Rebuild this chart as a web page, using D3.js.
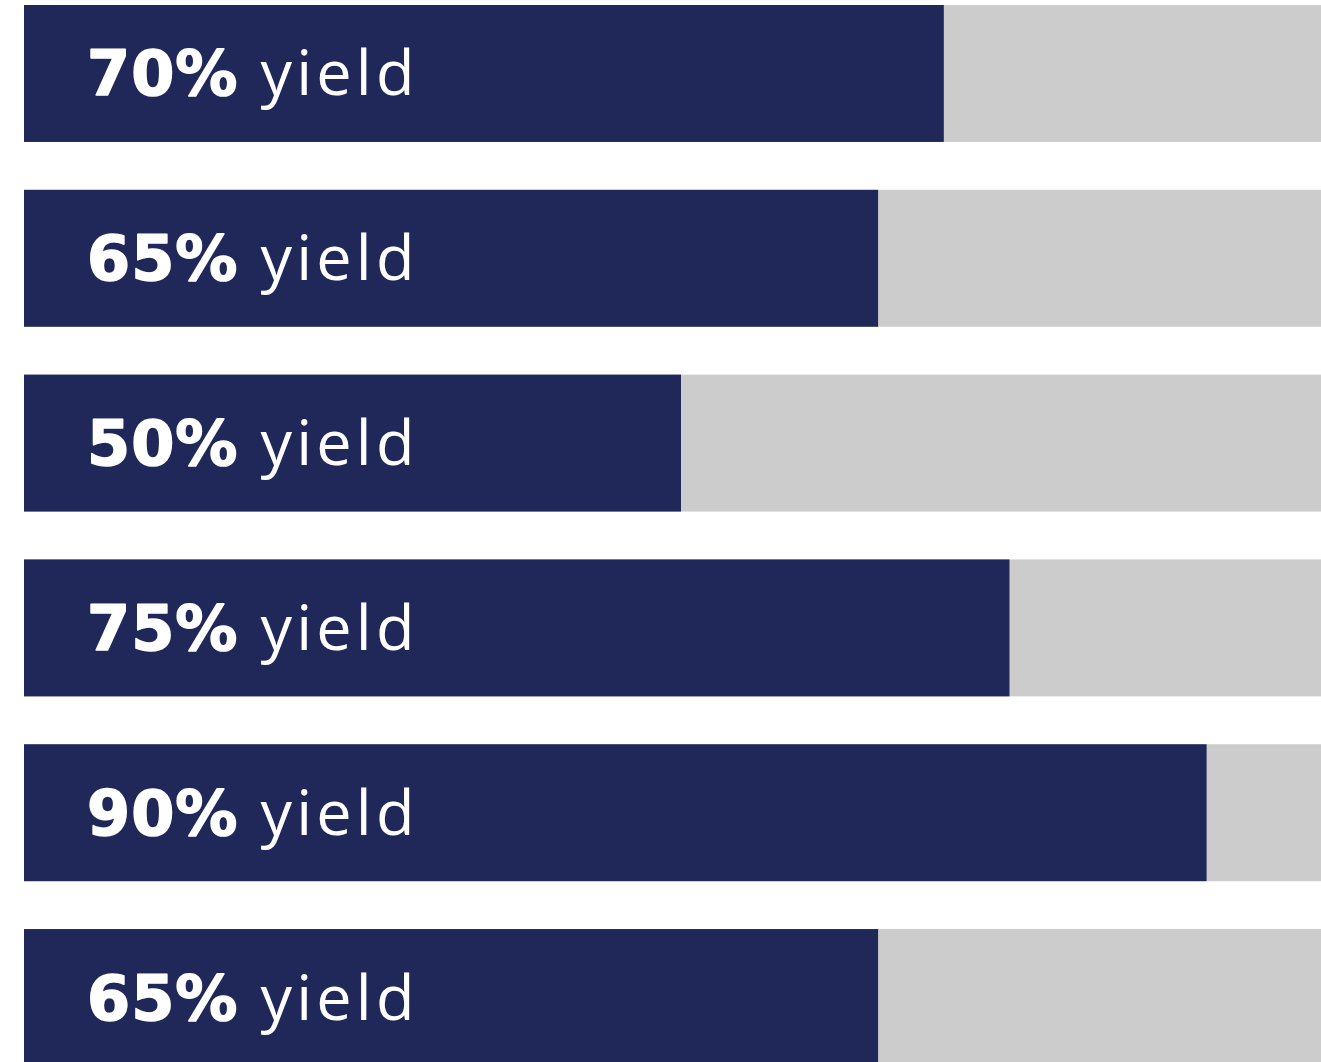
<!DOCTYPE html>
<html>
<head>
<meta charset="utf-8">
<script src="https://cdn.jsdelivr.net/npm/d3@7"></script>
<style>
  html, body { margin: 0; padding: 0; background: #ffffff; overflow: hidden; }
  svg { display: block; }
</style>
</head>
<body>
<svg id="chart" width="1321" height="1062"></svg>
<script>
// Data
const categories = ["row1", "row2", "row3", "row4", "row5", "row6"];
const yieldValues = [70, 65, 50, 75, 90, 65];
const valueLabels = ["70%", "65%", "50%", "75%", "90%", "65%"];
const suffixLabel = "yield";
const domainMax = 100;

const svg = d3.select("#chart");

const x = d3.scaleLinear().domain([0, domainMax]).range([24, 1338]);
const y = d3.scaleBand().domain(categories).range([5, 1066]).paddingInner(0.259).paddingOuter(0);

const rows = svg.selectAll("g.row")
  .data(categories.map((c, i) => ({ c, v: yieldValues[i], label: valueLabels[i] })))
  .join("g")
  .attr("class", "row");

rows.append("rect")
  .attr("x", x(0))
  .attr("y", d => y(d.c))
  .attr("width", x(domainMax) - x(0))
  .attr("height", y.bandwidth())
  .attr("fill", "#cccccc");

rows.append("rect")
  .attr("x", x(0))
  .attr("y", d => y(d.c))
  .attr("width", d => x(d.v) - x(0))
  .attr("height", y.bandwidth())
  .attr("fill", "#1f2858");

const txt = rows.append("text")
  .attr("x", x(0) + 63)
  .attr("y", d => y(d.c) + y.bandwidth() / 2 + 22)
  .attr("fill", "#ffffff");

txt.append("tspan")
  .attr("font-family", "'DejaVu Sans', sans-serif")
  .attr("font-weight", 700)
  .attr("font-size", 62)
  .attr("letter-spacing", 1)
  .attr("stroke", "#ffffff")
  .attr("stroke-width", 1.6)
  .attr("stroke-linejoin", "round")
  .text(d => d.label);

txt.append("tspan")
  .attr("dx", 22)
  .attr("font-family", "'Open Sans', sans-serif")
  .attr("font-weight", 400)
  .attr("font-size", 63)
  .attr("letter-spacing", 4.2)
  .text(suffixLabel);
</script>
</body>
</html>
